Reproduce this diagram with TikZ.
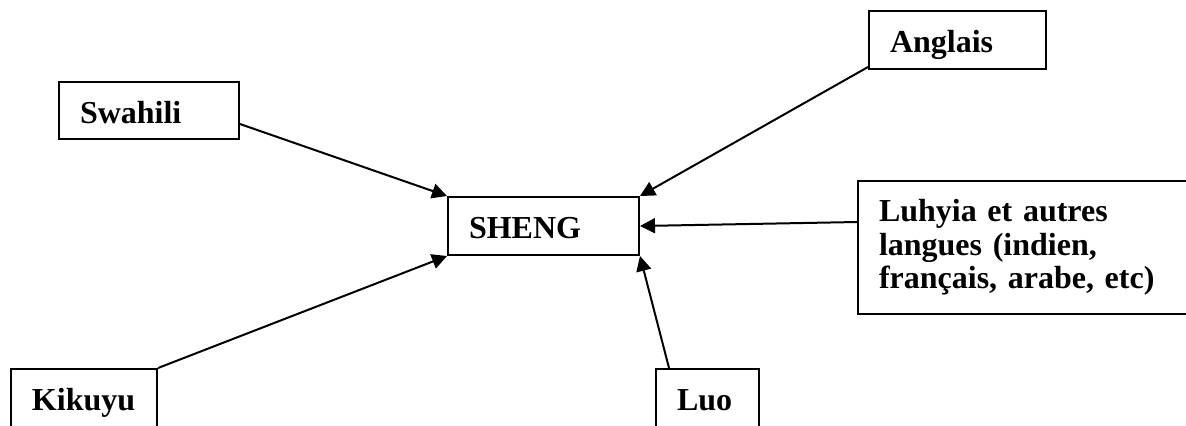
\documentclass[tikz,border=0pt]{standalone}
\usepackage{fontspec}
\setmainfont{Liberation Serif}
\usetikzlibrary{arrows.meta}
\begin{document}
\begin{tikzpicture}[x=0.5pt,y=-0.5pt,
  box/.style={draw, line width=1pt, rectangle, anchor=north west,
    inner xsep=10.5pt, inner ysep=0pt, align=left,
    font=\fontsize{16pt}{16.75pt}\selectfont\bfseries},
  onebox/.style={box, text height=12.5pt, text depth=0pt, minimum height=29pt},
  link/.style={line width=1pt, -{Triangle[length=7.5pt,width=7.5pt]}}]
\useasboundingbox (0,0) rectangle (1186,425);
\clip (0,0) rectangle (1186,425);
\node[onebox, text width=69pt, minimum height=28.5pt] (swahili) at (58,81) {Swahili};
\node[onebox, text width=74.5pt] (sheng) at (447,196) {SHENG};
\node[onebox, text width=67.5pt] (anglais) at (868,10) {Anglais};
\node[box, text width=150.5pt, minimum height=66.5pt] (luhyia) at (857,180)
  {Luhyia et autres\\langues (indien,\\français, arabe, etc)};
\node[onebox, text width=52pt] (kikuyu) at (10,368) {Kikuyu};
\node[onebox, text width=30.5pt] (luo) at (655,368) {Luo};
\draw[link] ([yshift=-6.75pt]swahili.east) -- (sheng.north west);
\draw[link] ([yshift=1.5pt]anglais.south west) -- (sheng.north east);
\draw[link] ([yshift=12.75pt]luhyia.west) -- (sheng.east);
\draw[link] (kikuyu.north east) -- (sheng.south west);
\draw[link] ([xshift=7pt]luo.north west) -- (sheng.south east);
\end{tikzpicture}
\end{document}
